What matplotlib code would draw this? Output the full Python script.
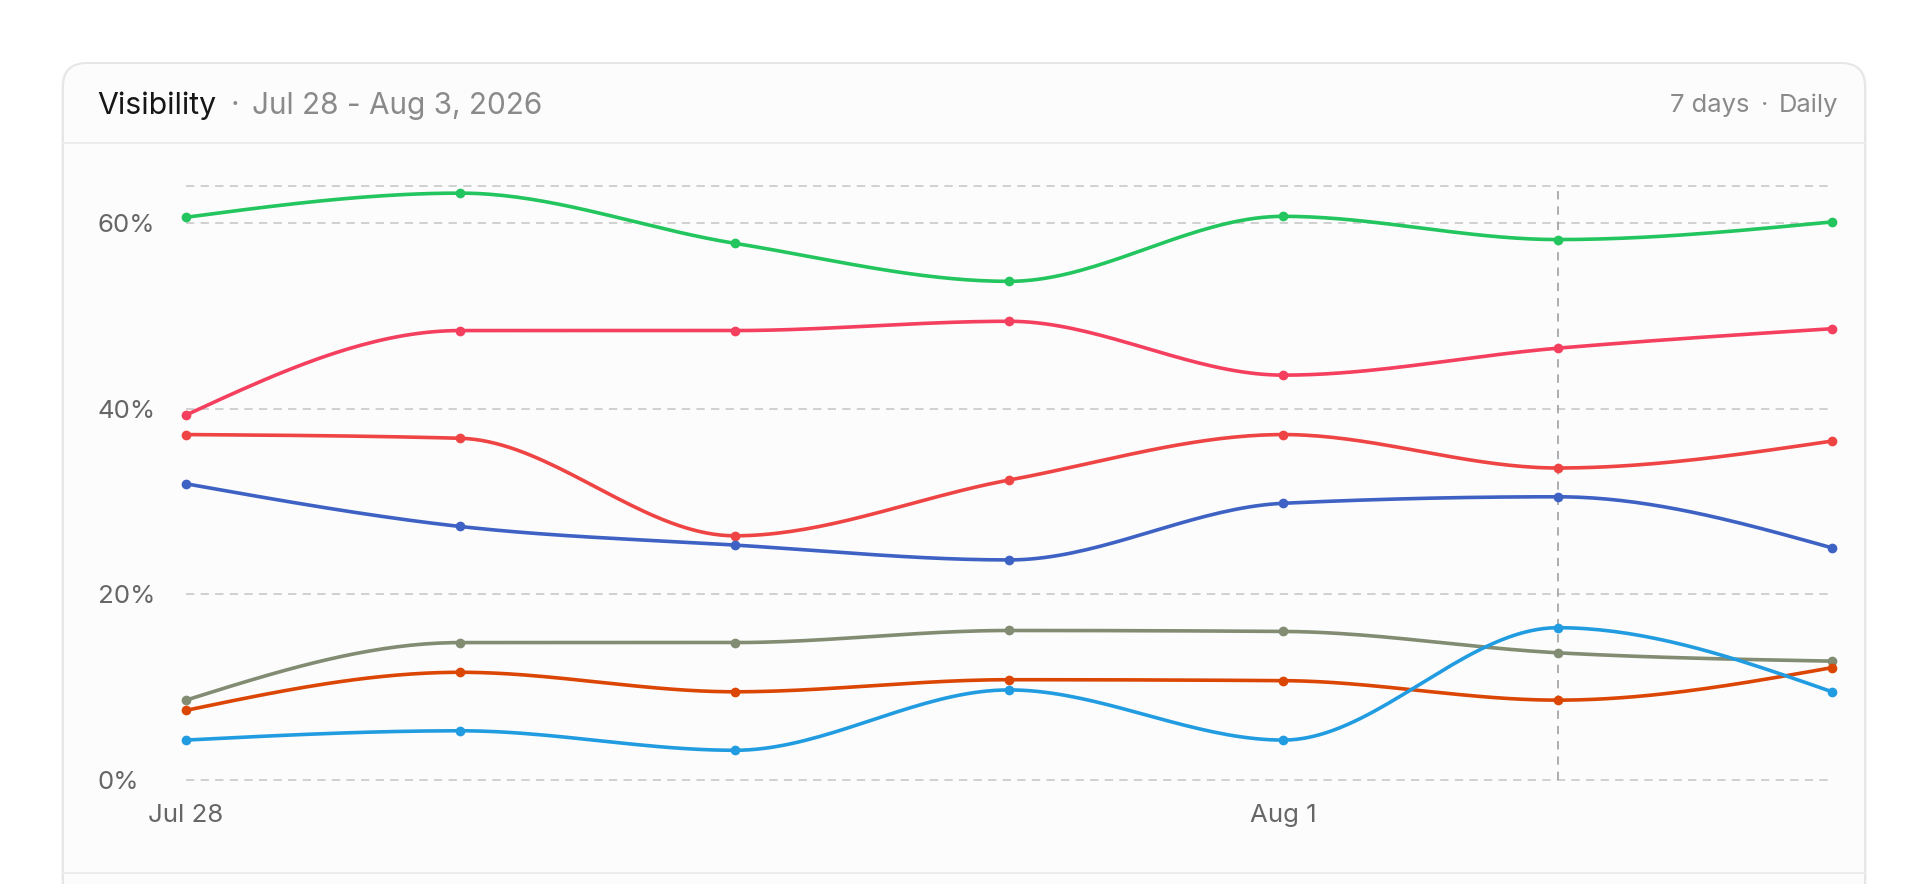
import numpy as np
import matplotlib
matplotlib.use("Agg")
import matplotlib.pyplot as plt
from matplotlib.patches import FancyBboxPatch

plt.rcParams['font.family'] = ['Inter', 'DejaVu Sans']
plt.rcParams['lines.scale_dashes'] = False

# ---------------- data ----------------
dates = ["Jul 28", "Jul 29", "Jul 30", "Jul 31", "Aug 1", "Aug 2", "Aug 3"]
shown_ticks = ["Jul 28", "Aug 1"]
hover_date = "Aug 2"

green = [60.6, 63.2, 57.8, 53.7, 60.7, 58.2, 60.1]
rose = [39.3, 48.4, 48.4, 49.4, 43.6, 46.5, 48.6]
red = [37.2, 36.8, 26.3, 32.3, 37.2, 33.6, 36.5]
blue = [31.9, 27.3, 25.3, 23.7, 29.8, 30.5, 25.0]
sage = [8.6, 14.8, 14.8, 16.1, 16.0, 13.7, 12.8]
orange = [7.5, 11.6, 9.5, 10.8, 10.7, 8.6, 12.1]
sky = [4.3, 5.3, 3.2, 9.7, 4.3, 16.4, 9.5]

series = [
    (green, "#22c55e"),
    (rose, "#f43f5e"),
    (red, "#ef4444"),
    (blue, "#3e61c4"),
    (sage, "#818c72"),
    (orange, "#dc4605"),
    (sky, "#229ce0"),
]

y_ticks = [0, 20, 40, 60]
y_max = 64


def monotone_x(x, y, n=40):
    """d3 curveMonotoneX interpolation."""
    x = np.asarray(x, float)
    y = np.asarray(y, float)
    N = len(x)
    h = np.diff(x)
    s = np.diff(y) / h
    t = np.zeros(N)
    sg = lambda v: -1.0 if v < 0 else 1.0
    for i in range(1, N - 1):
        h0, h1 = h[i - 1], h[i]
        s0, s1 = s[i - 1], s[i]
        p = (s0 * h1 + s1 * h0) / (h0 + h1)
        t[i] = (sg(s0) + sg(s1)) * min(abs(s0), abs(s1), 0.5 * abs(p))
    t[0] = (3 * s[0] - t[1]) / 2
    t[-1] = (3 * s[-1] - t[-2]) / 2
    xs, ys = [], []
    u = np.linspace(0, 1, n)
    for i in range(N - 1):
        dx = (x[i + 1] - x[i]) / 3
        P0 = np.array([x[i], y[i]])
        P1 = np.array([x[i] + dx, y[i] + dx * t[i]])
        P2 = np.array([x[i + 1] - dx, y[i + 1] - dx * t[i + 1]])
        P3 = np.array([x[i + 1], y[i + 1]])
        b = ((1 - u) ** 3)[:, None] * P0 + (3 * (1 - u) ** 2 * u)[:, None] * P1 \
            + (3 * (1 - u) * u ** 2)[:, None] * P2 + (u ** 3)[:, None] * P3
        xs.append(b[:, 0])
        ys.append(b[:, 1])
    return np.concatenate(xs), np.concatenate(ys)


# ---------------- figure ----------------
W, H, DPI = 1928, 884, 100
fig = plt.figure(figsize=(W / DPI, H / DPI), dpi=DPI, facecolor="white")

bg = fig.add_axes([0, 0, 1, 1])
bg.set_xlim(0, W)
bg.set_ylim(H, 0)
bg.axis("off")

# faint shadow + card
for off, col in [(4, "#f6f6f6"), (2, "#f1f1f1")]:
    bg.add_patch(FancyBboxPatch((63 - off / 2, 63), 1865 - 63 + off, 1000,
                                boxstyle="round,pad=0,rounding_size=24",
                                fc=col, ec="none", zorder=0))
bg.add_patch(FancyBboxPatch((63, 63), 1865 - 63, 1000,
                            boxstyle="round,pad=0,rounding_size=24",
                            fc="#fcfcfc", ec="#e6e6e6", lw=1.4, zorder=1))
bg.plot([63, 1865], [142.7, 142.7], color="#ececec", lw=1.4, zorder=2)
bg.plot([63, 1865], [873, 873], color="#ececec", lw=1.4, zorder=2)

# header texts
bg.text(97, 114.3, "Visibility", ha="left", va="baseline",
        fontsize=21.8, color="#161616", zorder=3)
bg.text(235, 114.3, "·", ha="center", va="baseline",
        fontsize=21.4, color="#8a8a8a", zorder=3)
bg.text(252, 114.3, "Jul 28 - Aug 3, 2026", ha="left", va="baseline",
        fontsize=21.4, color="#8a8a8a", zorder=3)
bg.text(1838.6, 112.3, "Daily", ha="right", va="baseline",
        fontsize=18.4, color="#8a8a8a", zorder=3)
bg.text(1764.6, 112.3, "·", ha="center", va="baseline",
        fontsize=18.4, color="#8a8a8a", zorder=3)
bg.text(1749, 112.3, "7 days", ha="right", va="baseline",
        fontsize=18.4, color="#8a8a8a", zorder=3)

# plot axes
x0, x1, ytop, ybot = 186, 1832, 185.7, 780
ax = fig.add_axes([x0 / W, 1 - ybot / H, (x1 - x0) / W, (ybot - ytop) / H])
ax.patch.set_alpha(0)
for sp in ax.spines.values():
    sp.set_visible(False)
ax.set_xlim(0, len(dates) - 1)
ax.set_ylim(0, y_max)

dash = (0, (6, 4.5))
for v in y_ticks + [y_max]:
    ax.axhline(v, color="#c9c9c9", lw=1.2, ls=dash, zorder=1, clip_on=False)

hx = dates.index(hover_date)
ax.plot([hx, hx], [0, y_max], color="#a0a0a0", lw=1.2, ls=(0, (6, 5)),
        zorder=2, clip_on=False)

xi = np.arange(len(dates))
for k, (vals, col) in enumerate(series):
    sx, sy = monotone_x(xi, vals)
    ax.plot(sx, sy, color=col, lw=2.6, solid_capstyle="round",
            zorder=3 + k, clip_on=False)
    ax.plot(xi, vals, "o", color=col, ms=7, mec="none",
            zorder=3 + k, clip_on=False)

ax.set_yticks(y_ticks)
ax.set_yticklabels([f"{v}%" for v in y_ticks])
ax.set_xticks([dates.index(d) for d in shown_ticks])
ax.set_xticklabels(shown_ticks)
ax.tick_params(axis="y", length=0, pad=63.4, labelsize=18.6, labelcolor="#666666")
ax.tick_params(axis="x", length=0, pad=17.5, labelsize=18.6, labelcolor="#666666")
for lab in ax.get_yticklabels():
    lab.set_horizontalalignment("left")

fig.savefig("out.png", dpi=DPI, facecolor="white")
